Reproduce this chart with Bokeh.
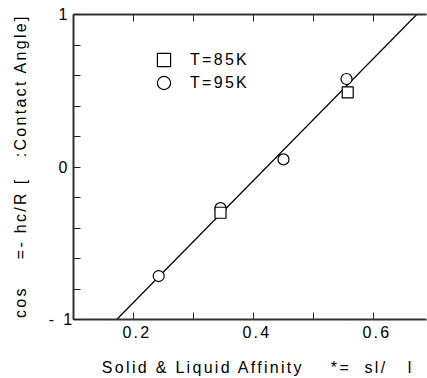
from bokeh.plotting import figure
from bokeh.models import (Range1d, FixedTicker, LinearAxis, Legend, LegendItem,
                          InlineStyleSheet)
from bokeh.embed import file_html
from bokeh.resources import INLINE

# ---- data ----
t85_x = [0.345, 0.557]
t85_y = [-0.30, 0.49]
t95_x = [0.242, 0.345, 0.450, 0.555]
t95_y = [-0.715, -0.27, 0.05, 0.577]
fit_x = [0.172, 0.672]
fit_y = [-1.0, 1.0]
series_labels = ["T=85K", "T=95K"]
x_major = [0.2, 0.4, 0.6]
x_minor = [0.1, 0.3, 0.5, 0.7]
x_all = [0.1, 0.2, 0.3, 0.4, 0.5, 0.6, 0.7]
y_major = [-1, 0, 1]
y_minor = [-0.8, -0.6, -0.4, -0.2, 0.2, 0.4, 0.6, 0.8]
y_tick_labels = {-1: "- 1", 0: "0", 1: "1"}

NB = "\u00a0"  # gaps where the original's Greek glyphs are missing
x_title = "Solid & Liquid Affinity" + NB * 4 + "*=" + NB * 2 + "sl/" + NB * 3 + "l" + " " * 16
y_title = "cos" + NB * 4 + "=- hc/R [" + NB * 3 + ":Contact Angle]" + " " * 17

FONT = "Liberation Sans"

p = figure(width=427, height=378, x_range=Range1d(0.1, 0.6883), y_range=Range1d(-1, 1),
           output_backend="svg", toolbar_location=None,
           min_border_left=73, min_border_right=1, min_border_top=14, min_border_bottom=59)
p.outline_line_color = None
p.xgrid.visible = False
p.ygrid.visible = False
p.stylesheets = [InlineStyleSheet(css=":host { letter-spacing: 2.3px; }")]


def style(ax):
    ax.axis_line_width = 2
    ax.axis_line_color = "#333333"
    ax.major_tick_in = 7
    ax.major_tick_out = 0
    ax.minor_tick_in = 7
    ax.minor_tick_out = 0
    ax.major_tick_line_color = "#222222"
    ax.minor_tick_line_color = "#222222"
    ax.major_label_text_font = FONT
    ax.major_label_text_font_size = "16px"
    ax.major_label_text_color = "black"
    ax.axis_label_text_font = FONT
    ax.axis_label_text_font_size = "16px"
    ax.axis_label_text_font_style = "normal"
    ax.axis_label_text_color = "black"


xa = p.xaxis[0]
xa.ticker = FixedTicker(ticks=x_major, minor_ticks=x_minor)
style(xa)
xa.major_label_standoff = 6
xa.axis_label = x_title
xa.axis_label_standoff = 18

ya = p.yaxis[0]
ya.ticker = FixedTicker(ticks=y_major, minor_ticks=y_minor)
ya.major_label_overrides = y_tick_labels
style(ya)
ya.major_label_standoff = 6
ya.axis_label = y_title
ya.axis_label_standoff = 17

top = LinearAxis(ticker=FixedTicker(ticks=[], minor_ticks=x_all))
style(top)
top.major_label_standoff = 0
p.add_layout(top, "above")

fit = p.line(fit_x, fit_y, line_color="black", line_width=1.2)
r95 = p.scatter(t95_x, t95_y, marker="circle", size=11, fill_color="white",
                line_color="black", line_width=1.2)
r85 = p.scatter(t85_x, t85_y, marker="square", size=11, fill_color="white",
                line_color="black", line_width=1.2)

for lbl, rend, loc in [(series_labels[0], r85, (74, 243)),
                       (series_labels[1], r95, (74, 220))]:
    lg = Legend(items=[LegendItem(label=lbl, renderers=[rend])],
                location=loc, glyph_width=33, glyph_height=33, label_standoff=10,
                padding=0, margin=0, border_line_color=None, background_fill_alpha=0,
                label_text_font=FONT, label_text_font_size="16px",
                label_text_color="black")
    p.add_layout(lg)

open("out.html", "w").write(file_html(p, INLINE))
